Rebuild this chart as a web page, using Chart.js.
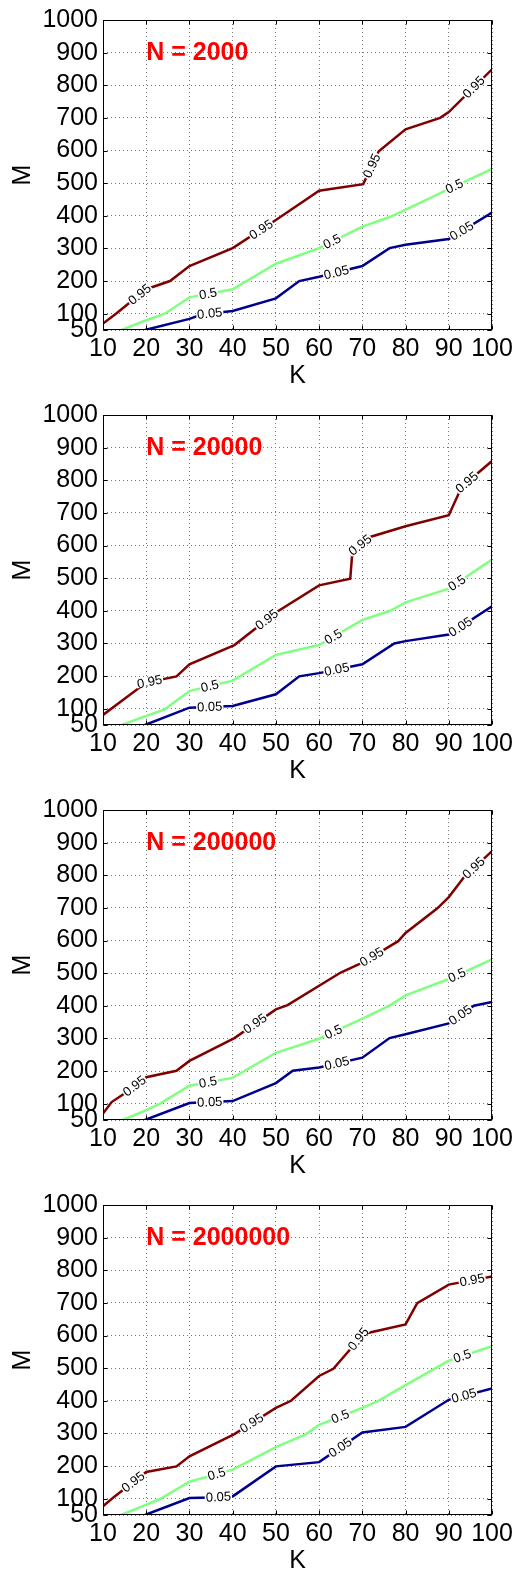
<!DOCTYPE html>
<html>
<head>
<meta charset="utf-8">
<script src="https://cdn.jsdelivr.net/npm/chart.js@4.4.0/dist/chart.umd.min.js"></script>
<style>
    html, body { margin: 0; padding: 0; background: #fff; overflow: hidden; }
    canvas { display: block; }
</style>
</head>
<body>
<canvas id="p1" width="525" height="395"></canvas>
<canvas id="p2" width="525" height="395"></canvas>
<canvas id="p3" width="525" height="395"></canvas>
<canvas id="p4" width="525" height="395"></canvas>
<script>
// 坐标轴刻度
const kTicks = [10, 20, 30, 40, 50, 60, 70, 80, 90, 100];
const mTicks = [50, 100, 200, 300, 400, 500, 600, 700, 800, 900, 1000];
const panelTitles = ['N = 2000', 'N = 20000', 'N = 200000', 'N = 2000000'];

// N = 2000
const k95_a = [10, 13, 20, 25.5, 30, 40, 50, 60, 70.2, 73.8, 80, 88, 90, 100];
const m95_a = [70, 100, 175, 200, 246, 301, 387, 477, 497, 598, 665, 700, 718, 849];
const k50_a = [14.3, 20, 24.3, 30, 34, 40, 50, 60, 70, 76.5, 90, 100];
const m50_a = [50, 80, 100, 150, 160, 175, 253, 301, 367, 397, 482, 544];
const k05_a = [19.7, 30, 33, 40, 50, 55.4, 60, 70, 76.3, 80, 90, 100];
const m05_a = [50, 84, 98, 108, 147, 200, 213, 246, 301, 311, 329, 410];

// N = 20000
const k95_b = [10, 20, 27, 30, 40.4, 50, 60, 67.2, 67.7, 72, 80, 90, 93, 100];
const m95_b = [81, 180, 199, 236, 295, 395, 478, 498, 582, 627, 659, 693, 780, 859];
const k50_b = [14.3, 20, 24.3, 30, 40, 50, 60, 70, 76.5, 80, 90, 100];
const m50_b = [50, 78, 98, 154, 186, 265, 295, 372, 400, 426, 468, 557];
const k05_b = [19.7, 30, 40, 50, 55.4, 60, 70, 77.4, 80, 90, 100];
const m05_b = [50, 103, 108, 144, 199, 209, 236, 300, 307, 327, 414];

// N = 200000
const k95_c = [10, 12, 15.4, 20, 27, 30, 40.4, 50, 52.7, 65, 70, 78.3, 80, 87.3, 90, 93.5, 100];
const m95_c = [70, 105, 135, 181, 201, 231, 301, 389, 402, 502, 532, 598, 623, 698, 733, 794, 874];
const k50_c = [14.6, 20, 23.2, 30, 40, 50, 60, 70, 76.2, 80, 90, 100];
const m50_c = [50, 80, 100, 155, 179, 256, 299, 361, 400, 432, 482, 542];
const k05_c = [19.7, 30, 40, 50, 53.9, 60, 70, 76.3, 80, 90, 95.8, 100];
const m05_c = [50, 102, 108, 163, 201, 211, 241, 301, 313, 346, 400, 412];

// N = 2000000
const k95_d = [10, 12.7, 20, 27, 30, 40.4, 50, 53.5, 60, 63.3, 67.2, 70, 80, 82.7, 90, 100];
const m95_d = [77, 107, 182, 199, 230, 298, 378, 400, 476, 498, 558, 604, 634, 699, 756, 781];
const k50_d = [14.2, 20, 23.2, 30, 40, 50, 57, 60, 70, 73.5, 80, 90, 100];
const m50_d = [50, 82, 99, 152, 189, 258, 298, 326, 378, 398, 448, 523, 567];
const k05_d = [19.7, 30, 35, 40, 50, 60, 70, 80, 90, 100];
const m05_d = [50, 102, 104, 107, 199, 212, 303, 320, 403, 438];

// 等高线标注所在的 K 位置
const lab95 = [[18.5, 46.6, 72.2, 95.8], [20.8, 47.9, 69.5, 94.2], [17.3, 45.2, 72.2, 95.8], [17, 44.4, 69.1, 95.4]];
const lab50 = [[34.3, 63, 91.3], [34.7, 63.3, 91.9], [34.3, 63.3, 91.9], [36.3, 64.9, 93.1]];
const lab05 = [[34.7, 64, 93], [34.7, 64.1, 92.7], [34.7, 64.1, 92.7], [36.7, 64.9, 93.5]];

const FONT = "'Liberation Sans', Arial, Helvetica, sans-serif";
Chart.defaults.font.family = FONT;

document.addEventListener('DOMContentLoaded', function() {
    const sets = [
        [k95_a, m95_a, k50_a, m50_a, k05_a, m05_a],
        [k95_b, m95_b, k50_b, m50_b, k05_b, m05_b],
        [k95_c, m95_c, k50_c, m50_c, k05_c, m05_c],
        [k95_d, m95_d, k50_d, m50_d, k05_d, m05_d]
    ];
    sets.forEach(function(s, i) {
        const curves = [
            { k: s[0], m: s[1], color: '#800000', text: '0.95', at: lab95[i] },
            { k: s[2], m: s[3], color: '#80ff80', text: '0.5', at: lab50[i] },
            { k: s[4], m: s[5], color: '#00008f', text: '0.05', at: lab05[i] }
        ];
        drawPanel('p' + (i + 1), panelTitles[i], curves);
    });
});

function drawPanel(id, title, curves) {
    const decor = {
        id: 'decor',
        afterDatasetsDraw(chart) {
            const ctx = chart.ctx;
            const a = chart.chartArea;
            const xs = chart.scales.x, ys = chart.scales.y;

            // 等高线上的数值标注
            curves.forEach(function(c) {
                c.at.forEach(function(k) {
                    let i = 0;
                    while (i < c.k.length - 2 && c.k[i + 1] < k) i++;
                    const x0 = xs.getPixelForValue(c.k[i]), y0 = ys.getPixelForValue(c.m[i]);
                    const x1 = xs.getPixelForValue(c.k[i + 1]), y1 = ys.getPixelForValue(c.m[i + 1]);
                    const t = (k - c.k[i]) / (c.k[i + 1] - c.k[i]);
                    const px = x0 + t * (x1 - x0), py = y0 + t * (y1 - y0);
                    ctx.save();
                    ctx.translate(px, py);
                    ctx.rotate(Math.atan2(y1 - y0, x1 - x0));
                    ctx.font = '13px ' + FONT;
                    const w = ctx.measureText(c.text).width;
                    ctx.fillStyle = '#fff';
                    ctx.fillRect(-w / 2 - 1, -4, w + 2, 8);
                    ctx.fillStyle = '#000';
                    ctx.textAlign = 'center';
                    ctx.textBaseline = 'middle';
                    ctx.fillText(c.text, 0, 0.5);
                    ctx.restore();
                });
            });

            // 外框和内向刻度
            ctx.save();
            ctx.strokeStyle = '#000';
            ctx.lineWidth = 1;
            const L = Math.round(a.left) + 0.5, R = Math.round(a.right) - 0.5;
            const T = Math.round(a.top) + 0.5, B = Math.round(a.bottom) - 0.5;
            ctx.strokeRect(L, T, R - L, B - T);
            ctx.beginPath();
            kTicks.forEach(function(v) {
                const x = Math.round(xs.getPixelForValue(v)) + 0.5;
                ctx.moveTo(x, B); ctx.lineTo(x, B - 4);
                ctx.moveTo(x, T); ctx.lineTo(x, T + 4);
            });
            mTicks.forEach(function(v) {
                const y = Math.round(ys.getPixelForValue(v)) + 0.5;
                ctx.moveTo(L, y); ctx.lineTo(L + 4, y);
                ctx.moveTo(R, y); ctx.lineTo(R - 4, y);
            });
            ctx.stroke();

            // 面板标题
            ctx.fillStyle = '#ff0000';
            ctx.font = 'bold 25px ' + FONT;
            ctx.textAlign = 'left';
            ctx.textBaseline = 'middle';
            ctx.fillText(title, xs.getPixelForValue(20), ys.getPixelForValue(900));
            ctx.restore();
        }
    };

    new Chart(document.getElementById(id), {
        type: 'line',
        data: {
            datasets: curves.map(function(c) {
                return {
                    label: c.text,
                    data: c.k.map(function(k, j) { return { x: k, y: c.m[j] }; }),
                    borderColor: c.color,
                    borderWidth: 2.5,
                    pointRadius: 0,
                    tension: 0,
                    fill: false
                };
            })
        },
        options: {
            responsive: false,
            animation: false,
            events: [],
            layout: { padding: { top: 15, right: 33, left: 0, bottom: 0 } },
            plugins: {
                legend: { display: false },
                tooltip: { enabled: false }
            },
            scales: {
                x: {
                    type: 'linear',
                    min: 10,
                    max: 100,
                    afterBuildTicks: function(scale) {
                        scale.ticks = kTicks.map(function(v) { return { value: v }; });
                    },
                    afterFit: function(scale) { scale.height = 65; },
                    ticks: {
                        color: '#000', font: { size: 25 }, padding: 4, maxRotation: 0, autoSkip: false,
                        callback: function(v) { return String(v); }
                    },
                    grid: { color: '#777', lineWidth: 1, drawTicks: false },
                    border: { display: false, dash: [1, 3] },
                    title: { display: true, text: 'K', color: '#000', font: { size: 25 }, padding: { top: 0, bottom: 4 } }
                },
                y: {
                    type: 'linear',
                    min: 50,
                    max: 1000,
                    afterBuildTicks: function(scale) {
                        scale.ticks = mTicks.map(function(v) { return { value: v }; });
                    },
                    afterFit: function(scale) { scale.width = 103; },
                    ticks: {
                        color: '#000', font: { size: 25 }, padding: 5, autoSkip: false,
                        callback: function(v) { return String(v); }
                    },
                    grid: { color: '#777', lineWidth: 1, drawTicks: false },
                    border: { display: false, dash: [1, 3] },
                    title: { display: true, text: 'M', color: '#000', font: { size: 25 }, padding: { top: 8, bottom: 0 } }
                }
            }
        },
        plugins: [decor]
    });
}
</script>
</body>
</html>
